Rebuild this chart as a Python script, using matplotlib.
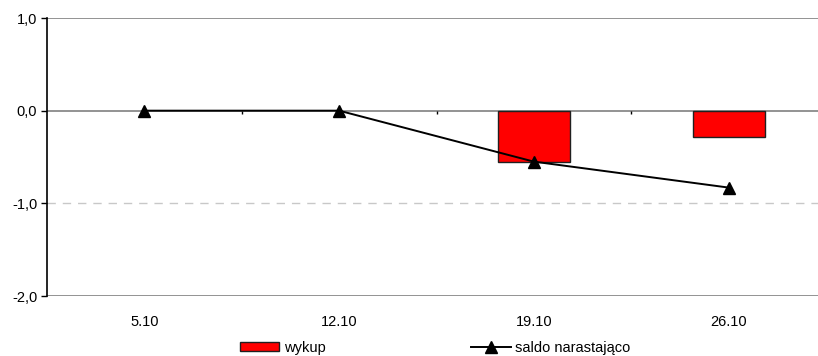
import matplotlib.pyplot as plt
import numpy as np
from matplotlib.ticker import FuncFormatter

plt.rcParams['font.family'] = ['Liberation Sans', 'DejaVu Sans']

dates = ['5.10', '12.10', '19.10', '26.10']
wykup = [0.0, 0.0, -0.55, -0.28]
saldo = [0.0, 0.0, -0.55, -0.83]

fig = plt.figure(figsize=(8.18, 3.56), dpi=100)
ax = fig.add_axes([47 / 818, 1 - 296 / 356, 779 / 818, 278 / 356])

x = np.arange(len(dates))
w = np.array(wykup)
mask = w != 0
bars = ax.bar(x[mask], w[mask], width=0.37, color='#ff0000', edgecolor='#202020',
              linewidth=1.0, zorder=3, label='wykup')
line, = ax.plot(x, saldo, color='black', linewidth=1.4, marker='^', markersize=8,
                zorder=4, label='saldo narastająco')

# grid / axis lines
ax.axhline(1.0, color='#808080', linewidth=1.2, zorder=1)
ax.axhline(0.0, color='#808080', linewidth=1.2, zorder=2)
ax.axhline(-1.0, color='#c8c8c8', linewidth=1.0, linestyle=(0, (6, 5)), zorder=1)
ax.axhline(-2.0, color='#808080', linewidth=1.2, zorder=1)
# category separators on the zero line
ax.vlines(x[:-1] + 0.5, -0.035, 0, color='black', linewidth=1.0, zorder=2)

ax.set_xlim(-0.5, len(dates) - 0.5)
ax.set_ylim(-2.0, 1.0)
ax.set_yticks([1.0, 0.0, -1.0, -2.0])
ax.yaxis.set_major_formatter(FuncFormatter(lambda v, p: f'{v:.1f}'.replace('.', ',')))
ax.set_xticks(x)
ax.set_xticklabels(dates)
ax.tick_params(axis='x', length=0, pad=14, labelsize=10.5)
ax.tick_params(axis='y', length=4, width=1, color='black', pad=3, labelsize=10.5)

for s in ['top', 'right', 'bottom']:
    ax.spines[s].set_visible(False)
ax.spines['left'].set_color('black')
ax.spines['left'].set_linewidth(1.2)

fig.legend([bars, line], ['wykup', 'saldo narastająco'], loc='center',
           bbox_to_anchor=(435 / 818, 1 - 348 / 356), ncol=2,
           frameon=False, fontsize=10.5, handlelength=2.7, handleheight=0.6,
           columnspacing=10.0, handletextpad=0.3, borderpad=0)

fig.savefig('out.png', dpi=100)
